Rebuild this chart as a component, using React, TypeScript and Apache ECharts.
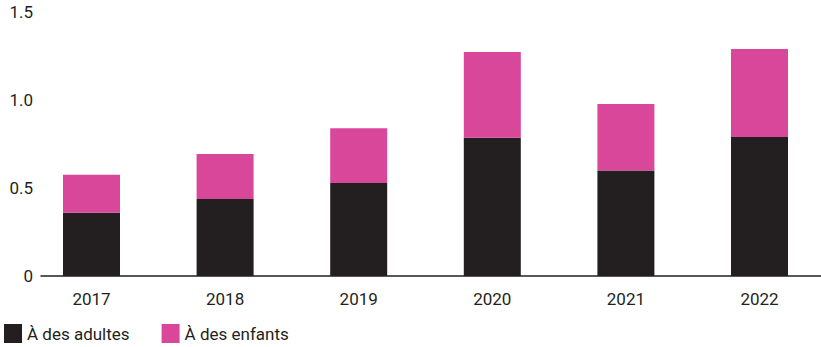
import React, { useEffect, useRef } from "react";
import * as echarts from "echarts";

const years = ["2017", "2018", "2019", "2020", "2021", "2022"];
const adultes = [0.36, 0.4375, 0.528, 0.785, 0.6, 0.79];
const enfants = [0.215, 0.2555, 0.312, 0.488, 0.377, 0.5];
const yTicks = [0, 0.5, 1.0, 1.5];

const BLACK = "#231f20";
const PINK = "#d9479a";
const TEXT = "#231f20";
const FONT = "Roboto, 'Noto Sans', sans-serif";

export default function App() {
  const ref = useRef<HTMLDivElement>(null);
  useEffect(() => {
    if (!ref.current) return;
    const chart = echarts.init(ref.current, null, { renderer: "svg" });
    chart.setOption({
      animation: false,
      textStyle: { fontFamily: FONT },
      legend: {
        left: 4,
        top: 324,
        padding: 0,
        itemWidth: 18,
        itemHeight: 19,
        itemGap: 32,
        icon: "rect",
        textStyle: { fontSize: 17, color: TEXT, fontFamily: FONT },
        data: ["À des adultes", "À des enfants"],
      },
      grid: [
        { left: 24.7, width: 801.6, top: 12, bottom: 71 },
        { left: 41, width: 780, top: 12, bottom: 71 },
      ],
      xAxis: [
        {
          type: "category",
          gridIndex: 0,
          data: years,
          axisLine: { show: false },
          axisTick: { show: false },
          axisLabel: { fontSize: 17, color: TEXT, margin: 14, fontFamily: FONT },
        },
        {
          type: "category",
          gridIndex: 1,
          data: years,
          axisLine: { show: true, lineStyle: { color: BLACK, width: 1.5 } },
          axisTick: { show: false },
          axisLabel: { show: false },
        },
      ],
      yAxis: [
        {
          type: "value",
          gridIndex: 0,
          min: 0,
          max: 1.5,
          interval: 0.5,
          show: false,
          splitLine: { show: false },
        },
        {
          type: "value",
          gridIndex: 1,
          min: 0,
          max: 1.5,
          interval: 0.5,
          splitLine: { show: false },
          axisLine: { show: false },
          axisTick: { show: false },
          axisLabel: {
            fontSize: 17,
            color: TEXT,
            margin: 8,
            fontFamily: FONT,
            formatter: (v: number) => {
              const t = yTicks.find((x) => Math.abs(x - v) < 1e-9);
              if (t === undefined) return "";
              return t === 0 ? "0" : t.toFixed(1);
            },
          },
        },
      ],
      series: [
        {
          name: "À des adultes",
          type: "bar",
          stack: "total",
          xAxisIndex: 0,
          yAxisIndex: 0,
          barWidth: 57,
          itemStyle: { color: BLACK },
          data: adultes,
        },
        {
          name: "À des enfants",
          type: "bar",
          stack: "total",
          xAxisIndex: 0,
          yAxisIndex: 0,
          barWidth: 57,
          itemStyle: { color: PINK },
          data: enfants,
        },
      ],
    });
    return () => chart.dispose();
  }, []);
  return (
    <div style={{ position: "absolute", left: 0, top: 0, width: 821, height: 347, overflow: "hidden" }}>
      <div ref={ref} style={{ width: 840, height: 347 }} />
    </div>
  );
}
